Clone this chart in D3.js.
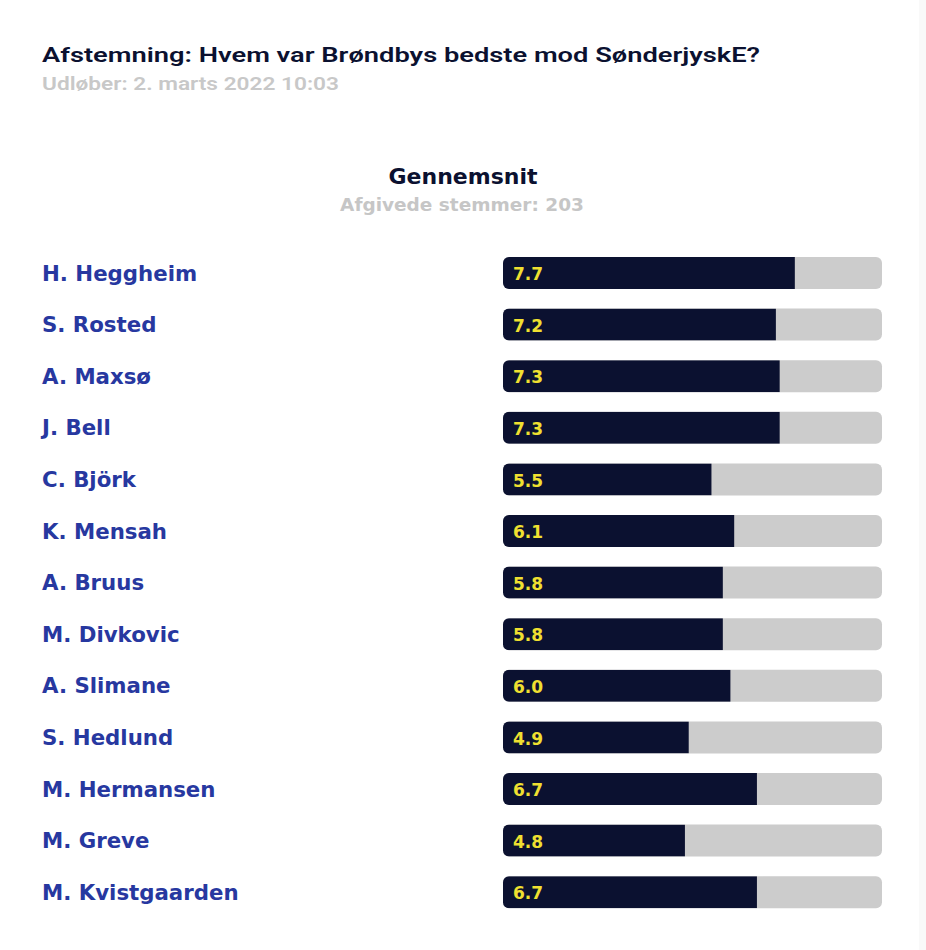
<!DOCTYPE html>
<html><head><meta charset="utf-8">
<script src="https://cdn.jsdelivr.net/npm/d3@7"></script>
<style>
html,body{margin:0;padding:0;background:#fff;}
svg{display:block;}
</style></head>
<body>
<script>
const players = ["H. Heggheim","S. Rosted","A. Maxsø","J. Bell","C. Björk","K. Mensah","A. Bruus","M. Divkovic","A. Slimane","S. Hedlund","M. Hermansen","M. Greve","M. Kvistgaarden"];
const averages = [7.7,7.2,7.3,7.3,5.5,6.1,5.8,5.8,6.0,4.9,6.7,4.8,6.7];
const valueLabels = ["7.7","7.2","7.3","7.3","5.5","6.1","5.8","5.8","6.0","4.9","6.7","4.8","6.7"];
const scaleMax = 10;
const title = "Afstemning: Hvem var Brøndbys bedste mod SønderjyskE?";
const expiry = "Udløber: 2. marts 2022 10:03";
const heading = "Gennemsnit";
const votes = "Afgivede stemmer: 203";

const W = 926, H = 950;
const svg = d3.select("body").append("svg").attr("width", W).attr("height", H);

svg.append("rect").attr("x",919).attr("y",0).attr("width",7).attr("height",H).attr("fill","#f9f9f9");

svg.append("text").attr("x",42).attr("y",62).text(title)
  .attr("font-family","Roboto").attr("font-weight",600).attr("font-size",20)
  .attr("fill","#0b1130").attr("textLength",718).attr("lengthAdjust","spacingAndGlyphs");
svg.append("text").attr("x",42).attr("y",90).text(expiry)
  .attr("font-family","Roboto").attr("font-weight",600).attr("font-size",18)
  .attr("fill","#c8c8c8").attr("textLength",297).attr("lengthAdjust","spacingAndGlyphs");

const sans = "DejaVu Sans";
svg.append("text").attr("x",463).attr("y",184).attr("text-anchor","middle").text(heading)
  .attr("font-family",sans).attr("font-weight",700).attr("font-size",22).attr("fill","#0b1130");
svg.append("text").attr("x",462).attr("y",211).attr("text-anchor","middle").text(votes)
  .attr("font-family",sans).attr("font-weight",700).attr("font-size",18.5).attr("fill","#c6c6c6");

const step = 51.6;
const y0 = 257;
const yPos = d3.scaleLinear().domain([0, players.length-1]).range([y0, y0 + step*(players.length-1)]);
const bh = 32;
const x = d3.scaleLinear().domain([0, scaleMax]).range([503, 882]);
const r = 6;

const data = players.map((p,i)=>({p, v:averages[i], l:valueLabels[i], i}));

const defs = svg.append("defs");
data.forEach(d=>{
  defs.append("clipPath").attr("id","c"+d.i).append("rect")
    .attr("x",x(0)).attr("y",yPos(d.i)).attr("width",x(scaleMax)-x(0)).attr("height",bh).attr("rx",r);
});

const g = svg.selectAll("g.row").data(data).join("g").attr("class","row");
g.append("rect").attr("x",x(0)).attr("y",d=>yPos(d.i)).attr("width",x(scaleMax)-x(0)).attr("height",bh)
  .attr("rx",r).attr("fill","#cccccc");
g.append("rect").attr("x",x(0)).attr("y",d=>yPos(d.i)).attr("width",d=>x(d.v)-x(0)).attr("height",bh)
  .attr("fill","#0b1130").attr("clip-path",d=>`url(#c${d.i})`);
g.append("text").attr("x",513).attr("y",d=>yPos(d.i)+bh/2+1).attr("dy","0.36em").text(d=>d.l)
  .attr("font-family",sans).attr("font-weight",700).attr("font-size",17).attr("fill","#f0e030");
g.append("text").attr("x",42).attr("y",d=>yPos(d.i)+bh/2).attr("dy","0.36em").text(d=>d.p)
  .attr("font-family",sans).attr("font-weight",700).attr("font-size",21.3).attr("fill","#2738a0");
</script>
</body></html>
